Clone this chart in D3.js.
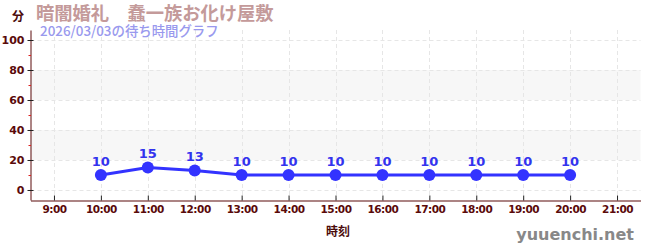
<!DOCTYPE html>
<html>
<head>
<meta charset="utf-8">
<script src="https://d3js.org/d3.v7.min.js"></script>
<style>
body { margin: 0; background: #fff; }
text { font-family: "Noto Sans CJK JP", "Noto Sans", sans-serif; }
</style>
</head>
<body>
<script>
var hours = [10, 11, 12, 13, 14, 15, 16, 17, 18, 19, 20];
var waits = [10, 15, 13, 10, 10, 10, 10, 10, 10, 10, 10];
var tickHours = [9, 10, 11, 12, 13, 14, 15, 16, 17, 18, 19, 20, 21];
var yTicks = [0, 20, 40, 60, 80, 100];
var bands = [[20, 40], [60, 80]];

var width = 650, height = 250;
var svg = d3.select("body").append("svg")
  .attr("width", width).attr("height", height);

var x = d3.scaleLinear().domain([8.5, 21.5]).range([30.5, 640.5]);
var y = d3.scaleLinear().domain([-6.67, 106.67]).range([200, 30]);

var axisColor = "#5a0a0a";

// bands
svg.selectAll(".band").data(bands).enter().append("rect")
  .attr("x", x(8.5)).attr("width", x(21.5) - x(8.5))
  .attr("y", function(d) { return y(d[1]); })
  .attr("height", function(d) { return y(d[0]) - y(d[1]); })
  .attr("fill", "#f7f7f7");

// grid
svg.selectAll(".hg").data(yTicks).enter().append("line")
  .attr("x1", x(8.5)).attr("x2", x(21.5))
  .attr("y1", function(d) { return Math.round(y(d)) + 0.5; })
  .attr("y2", function(d) { return Math.round(y(d)) + 0.5; })
  .attr("stroke", "#e6e6e6").attr("stroke-dasharray", "4,3");
svg.selectAll(".vg").data(tickHours).enter().append("line")
  .attr("y1", y(106.67)).attr("y2", y(-6.67))
  .attr("x1", function(d) { return Math.round(x(d)) + 0.5; })
  .attr("x2", function(d) { return Math.round(x(d)) + 0.5; })
  .attr("stroke", "#e6e6e6").attr("stroke-dasharray", "4,3");

// y axis
var yAxis = svg.append("g").attr("transform", "translate(30.5,0)")
  .call(d3.axisLeft(y).tickValues(yTicks).tickSize(5).tickSizeOuter(0));
yAxis.select(".domain").attr("stroke", axisColor);
yAxis.selectAll(".tick line").attr("stroke", "#222").attr("transform", "translate(3,0)").attr("x2", -6);
yAxis.selectAll(".tick text").attr("fill", axisColor).attr("x", -6)
  .style("font-size", "11px").style("font-family", "'DejaVu Sans', sans-serif").style("font-weight", "bold");
// minor ticks
svg.selectAll(".minor").data([10, 30, 50, 70, 90]).enter().append("line")
  .attr("x1", 28.5).attr("x2", 31)
  .attr("y1", function(d) { return Math.round(y(d)) + 0.5; })
  .attr("y2", function(d) { return Math.round(y(d)) + 0.5; })
  .attr("stroke", "#dd2222");

// x axis
var xAxis = svg.append("g").attr("transform", "translate(0,200.5)")
  .call(d3.axisBottom(x).tickValues(tickHours).tickSize(0).tickSizeOuter(0)
    .tickFormat(function(d) { return d + ":00"; }));
xAxis.select(".domain").attr("stroke", axisColor).attr("stroke-width", 1.2);
xAxis.selectAll(".tick line").attr("stroke", "#222").attr("y1", -5).attr("y2", 0);
xAxis.selectAll(".tick text").attr("fill", axisColor).attr("y", 5)
  .style("font-size", "10.5px").style("font-family", "'DejaVu Sans', sans-serif").style("font-weight", "bold")
  .attr("letter-spacing", "-0.5");

// line
var pts = hours.map(function(h, i) { return [h, waits[i]]; });
svg.append("path").datum(pts)
  .attr("fill", "none").attr("stroke", "#3333ff").attr("stroke-width", 3)
  .attr("d", d3.line().x(function(d) { return x(d[0]); }).y(function(d) { return y(d[1]); }));
svg.selectAll(".pt").data(pts).enter().append("circle")
  .attr("cx", function(d) { return x(d[0]); })
  .attr("cy", function(d) { return y(d[1]); })
  .attr("r", 6).attr("fill", "#3333ff");
svg.selectAll(".lbl").data(pts).enter().append("text")
  .attr("x", function(d) { return x(d[0]); })
  .attr("y", function(d) { return y(d[1]) - 9; })
  .attr("text-anchor", "middle").attr("fill", "#3333ee")
  .style("font-size", "13px").style("font-weight", "bold")
  .style("font-family", "'DejaVu Sans', sans-serif")
  .text(function(d) { return d[1]; });

// titles
svg.append("text").attr("x", 12).attr("y", 21).attr("fill", "#4a0a0a")
  .style("font-size", "12px").style("font-weight", "bold").text("分");
svg.append("text").attr("x", 36).attr("y", 20).attr("fill", "#c49a9a")
  .style("font-size", "18.3px").style("font-weight", "bold").text("暗闇婚礼　蠢一族お化け屋敷");
svg.append("text").attr("x", 40).attr("y", 36).attr("fill", "#9999ee")
  .style("font-size", "13.4px").style("font-weight", "500").text("2026/03/03の待ち時間グラフ");

svg.append("text").attr("x", 338).attr("y", 236).attr("text-anchor", "middle")
  .attr("fill", "#4a0a0a").style("font-size", "12px").style("font-weight", "bold").text("時刻");
svg.append("text").attr("x", 634).attr("y", 240).attr("text-anchor", "end")
  .attr("fill", "#888").style("font-size", "16px").style("font-weight", "bold")
  .style("font-family", "'DejaVu Sans', sans-serif").text("yuuenchi.net");
</script>
</body>
</html>
